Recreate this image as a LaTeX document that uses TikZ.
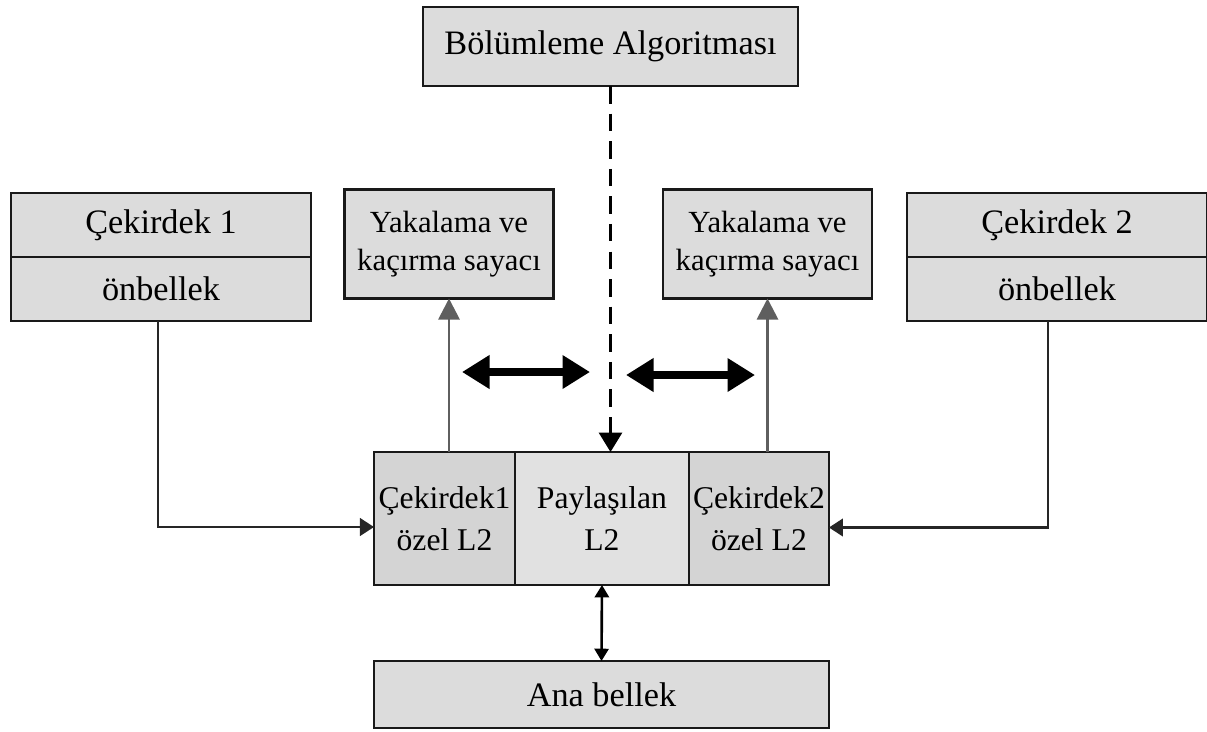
\documentclass[tikz,border=0pt]{standalone}
\usepackage{fontspec}
\setmainfont{Liberation Serif}
\usetikzlibrary{arrows.meta,positioning}
\definecolor{boxgray}{RGB}{220,220,220}
\definecolor{sidegray}{RGB}{212,212,212}
\definecolor{midgray}{RGB}{225,225,225}
\definecolor{linkgray}{RGB}{95,95,95}
\newcommand{\widthcore}{6cm}
\newcommand{\widthcounter}{4.18cm}
\newcommand{\heightcell}{2.66cm}
\tikzset{
    common/.style={draw=black!90, fill=boxgray, rectangle, line width=1.4pt, inner sep=0pt, outer sep=0pt, align=center, font=\fontsize{19.5}{22}\selectfont},
    core/.style={common, minimum width=\widthcore, minimum height=1.28cm},
    counter/.style={common, minimum width=\widthcounter, minimum height=2.18cm, font=\fontsize{17.5}{22}\selectfont},
    cell/.style={common, fill=sidegray, minimum height=\heightcell, font=\fontsize{18}{24}\selectfont},
    link/.style={-{Triangle[length=8pt,width=10pt]}, line width=1.4pt, draw=black!85},
    uplink/.style={-{Triangle[length=12pt,width=12pt]}, line width=1.6pt, draw=linkgray},
    swap/.style={{Triangle[length=0.55cm,width=0.64cm]}-{Triangle[length=0.55cm,width=0.64cm]}, line width=4.5pt},
    memlink/.style={{Triangle[length=7pt,width=8pt]}-{Triangle[length=7pt,width=8pt]}, line width=1.5pt},
    plan/.style={-{Triangle[length=11pt,width=13pt]}, line width=1.7pt, dash pattern=on 10pt off 5.7pt}
}

\begin{document}
\begin{tikzpicture}[x=0.02cm, y=-0.02cm]
    \useasboundingbox (0,0) rectangle (1207,731);

    % top: partitioning algorithm
    \node[common, minimum width=7.5cm, minimum height=1.58cm] (algo) at (610.5,46.5) {Bölümleme Algoritması};

    % cores and their caches
    \node[core] (core1) at (161,225) {Çekirdek 1};
    \node[core, below=0pt of core1] (cache1) {önbellek};
    \node[core] (core2) at (1057,225) {Çekirdek 2};
    \node[core, below=0pt of core2] (cache2) {önbellek};

    % hit and miss counters
    \node[counter] (yak1) at (449,244) {Yakalama ve\\kaçırma sayacı};
    \node[counter] (yak2) at (767.5,244) {Yakalama ve\\kaçırma sayacı};

    % L2 split into private and shared parts
    \node[cell, minimum width=2.82cm] (priv1) at (444.5,518.5) {Çekirdek1\\özel L2};
    \node[cell, fill=midgray, minimum width=3.48cm, right=0pt of priv1] (shared) {Paylaşılan\\L2};
    \node[cell, minimum width=2.8cm, right=0pt of shared] (priv2) {Çekirdek2\\özel L2};

    % main memory
    \node[common, minimum width=9.1cm, minimum height=1.34cm] (ana) at (601.5,694.5) {Ana bellek};

    \coordinate (swapL1) at (462,372);
    \coordinate (swapL2) at (590,372);
    \coordinate (swapR1) at (626,375);
    \coordinate (swapR2) at (755,375);

    \draw[plan] (algo.south) -- (algo.south |- shared.north);
    \draw[uplink] (yak1.south |- priv1.north) -- (yak1.south);
    \draw[uplink] (yak2.south |- priv2.north) -- (yak2.south);
    \draw[swap] (swapL1) -- (swapL2);
    \draw[swap] (swapR1) -- (swapR2);

    \draw[link] ([xshift=-0.06cm]cache1.south) |- ([yshift=-0.17cm]priv1.west);
    \draw[link] ([xshift=-0.18cm]cache2.south) |- ([yshift=-0.18cm]priv2.east);
    \draw[memlink] (shared.south) -- (ana.north);
\end{tikzpicture}
\end{document}
